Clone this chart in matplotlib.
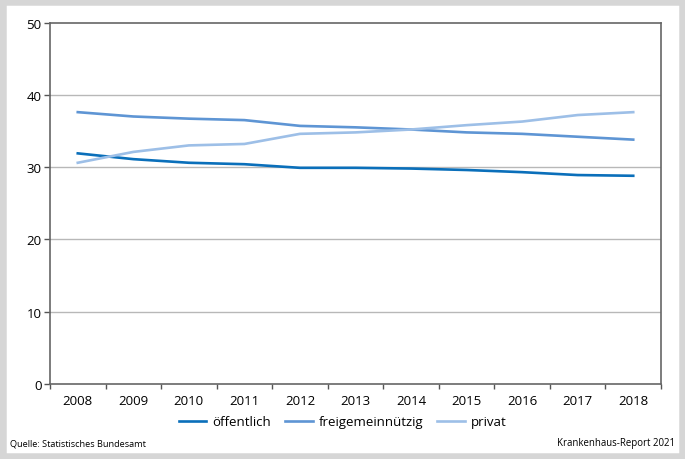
import numpy as np
import matplotlib
matplotlib.use("Agg")
import matplotlib.pyplot as plt
from matplotlib.patches import Rectangle


# =========================
# Daten
# =========================

years = [2008, 2009, 2010, 2011, 2012, 2013, 2014, 2015, 2016, 2017, 2018]

oeffentlich = [31.9, 31.1, 30.6, 30.4, 29.9, 29.9, 29.8, 29.6, 29.3, 28.9, 28.8]
freigemeinnuetzig = [37.6, 37.0, 36.7, 36.5, 35.7, 35.5, 35.2, 34.8, 34.6, 34.2, 33.8]
privat = [30.6, 32.1, 33.0, 33.2, 34.6, 34.8, 35.2, 35.8, 36.3, 37.2, 37.6]

series_labels = ["öffentlich", "freigemeinnützig", "privat"]
colors = ["#0a6fba", "#5e95d4", "#9dbfe7"]

y_ticks = [0, 10, 20, 30, 40, 50]


# =========================
# Figur
# =========================

plt.rcParams["font.family"] = ["Open Sans", "DejaVu Sans"]

fig = plt.figure(
    figsize=(6.85, 4.6),
    dpi=100,
    facecolor="white"
)

# grauer Rahmen
fig.patches.append(
    Rectangle(
        (0, 0), 1, 1,
        transform=fig.transFigure,
        facecolor="none",
        edgecolor="#d6d6d6",
        linewidth=9,
        zorder=0
    )
)

ax = fig.add_axes([
    50 / 685,
    1 - 385 / 460,
    611 / 685,
    361.5 / 460
])

x = np.arange(len(years))

for values, label, color in zip(
    [oeffentlich, freigemeinnuetzig, privat],
    series_labels,
    colors
):
    ax.plot(
        x,
        values,
        color=color,
        linewidth=1.9,
        label=label,
        zorder=3
    )


# =========================
# Achsen
# =========================

ax.set_xlim(-0.5, len(years) - 0.5)
ax.set_ylim(0, 50)

ax.set_yticks(y_ticks)
ax.set_yticklabels([str(v) for v in y_ticks], fontsize=9.5)

ax.set_xticks(x)
ax.set_xticklabels([str(y) for y in years], fontsize=9.5)
ax.tick_params(axis="x", which="major", length=0, pad=7)

ax.set_xticks(np.arange(-0.5, len(years), 1.0), minor=True)
ax.tick_params(axis="x", which="minor", length=3.5, width=1, color="#555555", direction="out")
ax.tick_params(axis="y", length=4.5, width=1, color="#555555", pad=1.5)

for y in y_ticks[1:-1]:
    ax.axhline(y, color="#b8b8b8", linewidth=1, zorder=1)

for side in ["left", "right", "bottom", "top"]:
    ax.spines[side].set_color("#666666")
    ax.spines[side].set_linewidth(1.2)


# =========================
# Legende & Texte
# =========================

fig.legend(
    loc="center",
    bbox_to_anchor=(0.5, 1 - 423 / 460),
    ncol=3,
    frameon=False,
    fontsize=9.5,
    handlelength=2.1,
    columnspacing=1.05,
    handletextpad=0.45
)

fig.text(
    10 / 685, 1 - 444 / 460,
    "Quelle: Statistisches Bundesamt",
    fontsize=6.6,
    va="center",
    ha="left"
)

fig.text(
    675 / 685, 1 - 444 / 460,
    "Krankenhaus-Report 2021",
    fontsize=6.9,
    va="center",
    ha="right"
)

fig.savefig("out.png", dpi=100)
